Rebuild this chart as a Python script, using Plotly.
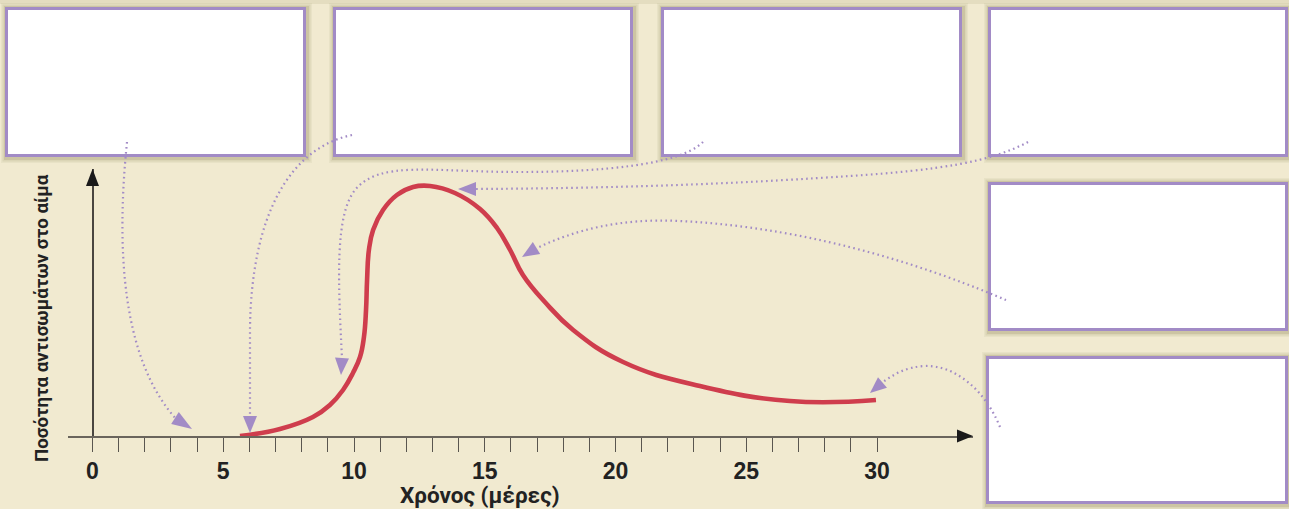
import math
import plotly.graph_objects as go

# ---------------- data ----------------
days = [5.64, 7.17, 8.43, 9.08, 9.58, 9.96, 10.23, 10.38, 10.46, 10.50, 10.57, 10.73,
        11.11, 11.64, 12.26, 12.91, 13.86, 14.82, 15.47, 15.97, 16.46, 17.30, 18.38,
        20.29, 23.23, 26.67, 29.96]
antibody = [0.0, 2.8, 7.6, 12.4, 18.4, 25.2, 31.6, 39.6, 50.4, 62.4, 74.4, 82.4,
            90.4, 96.4, 99.6, 100.0, 97.2, 90.8, 83.2, 74.4, 64.4, 53.6, 42.4,
            29.6, 20.0, 14.0, 14.4]
tick_days = list(range(0, 31))
tick_text = [str(d) if d % 5 == 0 else "" for d in tick_days]
x_title = "Χρόνος (μέρες)"
y_title = "Ποσότητα αντισωμάτων στο αίμα"

# ---------------- layout geometry (pixels) ----------------
W, H = 1289, 509
L, R, T, B = 68, 973, 169, 436
PX0, PXD = 92.5, 26.15          # pixel of day 0, pixels per day
PYK = 2.5                        # pixels per y unit

BG = "#f1ead0"
PURPLE = "#a28bc6"
RED = "#cf3d4d"
TITLE_FONT = "Roboto, Liberation Sans, Arial, sans-serif"


def X(p):
    return (p - L) / (R - L)


def Y(p):
    return (B - p) / (B - T)


def pt(x, y):
    return f"{X(x):.5f},{Y(y):.5f}"


shapes = []

# slight darker band at top edge
shapes.append(dict(type="rect", xref="paper", yref="paper", x0=X(0), x1=X(W), y0=Y(4), y1=Y(0),
                   line=dict(width=0), fillcolor="rgba(120,105,60,0.10)", layer="below"))

# boxes (outer edges in px)
boxes = [(5, 7, 306, 157), (333, 7, 633, 157), (661, 7, 962, 157),
         (988, 7, 1288, 157), (988, 182, 1288, 331), (986, 356, 1288, 504)]
for (x0, y0, x1, y1) in boxes:
    for k, a in ((5, 0.06), (3.5, 0.10), (2, 0.14)):
        shapes.append(dict(type="rect", xref="paper", yref="paper",
                           x0=X(x0 - k + 1), x1=X(x1 + k + 1), y0=Y(y1 + k + 1), y1=Y(y0 - k + 1),
                           line=dict(width=0), fillcolor=f"rgba(110,95,50,{a})", layer="below"))
    shapes.append(dict(type="rect", xref="paper", yref="paper",
                       x0=X(x0 + 1.5), x1=X(x1 - 1.5), y0=Y(y1 - 1.5), y1=Y(y0 + 1.5),
                       line=dict(color=PURPLE, width=3), fillcolor="white", layer="below"))

# dotted connector curves (px)
curves = [
    "M127,142 C116,250 122,360 177,420",
    "M352,135 C290,148 251,215 250,330 L250,416",
    "M703,142 C680,165 600,172 520,172 C430,172 380,160 355,190 C335,215 338,280 342,358",
    "M1028,142 C990,162 940,170 850,176 C760,182 650,188 476,189",
    "M1006,300 C940,272 820,228 680,221 C620,218 575,230 537,248",
    "M1000,427 C985,390 955,365 925,366 C905,367 893,375 883,382",
]


def conv(path):
    out = []
    for tok in path.split():
        if tok[0].isalpha():
            out.append(tok[0])
            rest = tok[1:]
        else:
            rest = tok
        if rest:
            xs, ys = rest.split(",")
            out.append(pt(float(xs), float(ys)))
    return " ".join(out)


for c in curves:
    shapes.append(dict(type="path", xref="paper", yref="paper", path=conv(c),
                       line=dict(color=PURPLE, width=2.2, dash="1.6px,3.4px")))


def tri(tip, base, hw, color):
    tx, ty = tip
    bx, by = base
    dx, dy = tx - bx, ty - by
    n = math.hypot(dx, dy)
    nx, ny = -dy / n, dx / n
    p1 = (bx + nx * hw, by + ny * hw)
    p2 = (bx - nx * hw, by - ny * hw)
    return dict(type="path", xref="paper", yref="paper",
                path=f"M{pt(*tip)} L{pt(*p1)} L{pt(*p2)} Z",
                line=dict(width=0), fillcolor=color)


arrowheads = [((192, 429), (175, 418)), ((250, 433), (250, 416)), ((341, 375), (342, 358)),
              ((458, 189), (476, 189)), ((522, 257), (536.5, 248)), ((870, 393), (882.5, 382.5))]
for tip, base in arrowheads:
    shapes.append(tri(tip, base, 7, PURPLE))

# axis arrowheads
shapes.append(tri((973, B), (957, B), 6.5, "#1a1a1a"))
shapes.append(tri((PX0, T), (PX0, T + 17), 6.5, "#1a1a1a"))

fig = go.Figure()
fig.add_trace(go.Scatter(x=days, y=antibody, mode="lines",
                         line=dict(color=RED, width=4.6, shape="spline", smoothing=1.25),
                         hoverinfo="skip", showlegend=False))

fig.update_layout(
    width=W, height=H,
    margin=dict(l=L, r=W - R, t=T, b=H - B, pad=0),
    paper_bgcolor=BG, plot_bgcolor="rgba(0,0,0,0)",
    shapes=shapes,
    xaxis=dict(range=[(L - PX0) / PXD, (R - PX0) / PXD], showgrid=False,
               zeroline=True, zerolinecolor="#4a4640", zerolinewidth=1.5,
               showline=True, linecolor="#6a655c", linewidth=1.6,
               tickmode="array", tickvals=tick_days, ticktext=tick_text,
               ticks="outside", ticklen=14, tickwidth=1.4, tickcolor="#5a564f",
               tickfont=dict(family="Liberation Sans, Arial, sans-serif", size=23,
                             color="#222222", weight="bold"),
               fixedrange=True),
    yaxis=dict(range=[0, (B - T) / PYK], showgrid=False, zeroline=False,
               showline=False, showticklabels=False, ticks="", fixedrange=True),
    annotations=[
        dict(xref="paper", yref="paper", x=X(480), y=Y(495), text=f"<b>{x_title}</b>",
             showarrow=False, font=dict(family=TITLE_FONT, size=22.5, color="#222222"),
             xanchor="center", yanchor="middle"),
        dict(xref="paper", yref="paper", x=X(42), y=Y(318), text=f"<b>{y_title}</b>",
             showarrow=False, textangle=-90, font=dict(family=TITLE_FONT, size=18.7, color="#222222"),
             xanchor="center", yanchor="middle"),
    ],
)

fig.write_html("out.html", config={"displayModeBar": False},
               post_script="document.body.style.margin='0';document.body.style.overflow='hidden';")
